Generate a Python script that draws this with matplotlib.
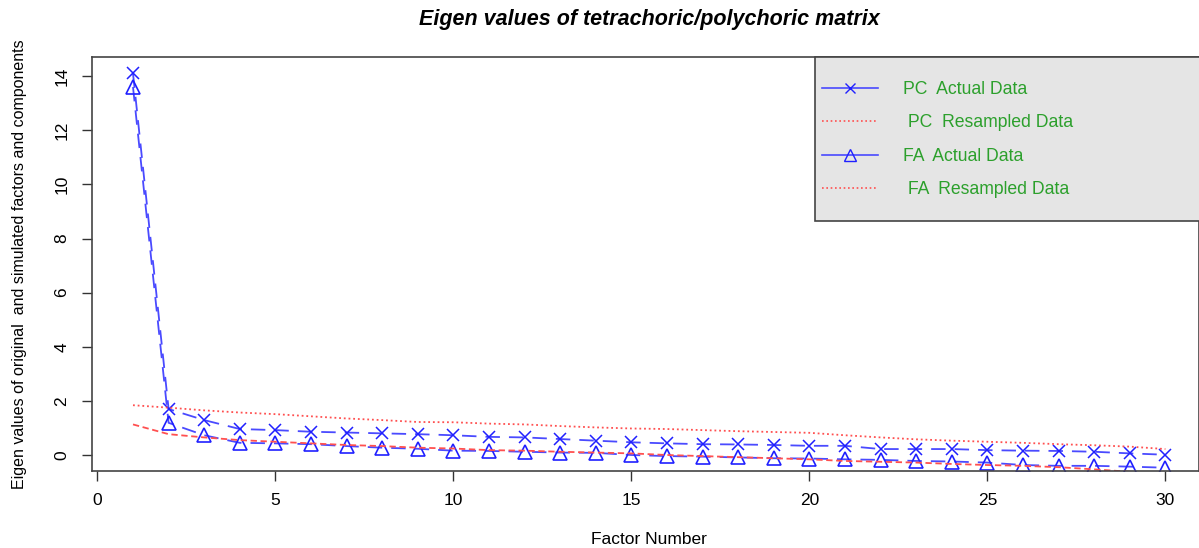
import matplotlib
matplotlib.use("Agg")
import matplotlib.pyplot as plt
from matplotlib.patches import Rectangle
from matplotlib.lines import Line2D

plt.rcParams['font.family'] = ['Liberation Sans', 'DejaVu Sans']

### factor numbers and eigen values
factors = list(range(1, 31))
pc_actual = [14.1, 1.70, 1.29, 0.96, 0.92, 0.86, 0.83, 0.80, 0.77, 0.73,
             0.67, 0.65, 0.59, 0.53, 0.47, 0.43, 0.40, 0.39, 0.37, 0.34,
             0.34, 0.22, 0.22, 0.22, 0.18, 0.16, 0.15, 0.12, 0.06, 0.01]
pc_resampled = [1.84, 1.75, 1.65, 1.57, 1.51, 1.43, 1.35, 1.29, 1.22, 1.21,
                1.16, 1.13, 1.07, 1.02, 0.98, 0.96, 0.92, 0.88, 0.85, 0.82,
                0.73, 0.65, 0.58, 0.53, 0.49, 0.45, 0.40, 0.36, 0.31, 0.22]
fa_actual = [13.6, 1.19, 0.73, 0.45, 0.43, 0.40, 0.33, 0.27, 0.23, 0.16,
             0.15, 0.12, 0.09, 0.08, 0.00, -0.04, -0.06, -0.09, -0.12, -0.13,
             -0.16, -0.18, -0.22, -0.24, -0.28, -0.37, -0.40, -0.40, -0.43, -0.47]
fa_resampled = [1.13, 0.77, 0.65, 0.55, 0.49, 0.43, 0.37, 0.33, 0.27, 0.24,
                0.18, 0.16, 0.12, 0.09, 0.06, 0.00, -0.04, -0.08, -0.12, -0.16,
                -0.22, -0.25, -0.28, -0.33, -0.37, -0.40, -0.45, -0.53, -0.62, -0.68]

legend_labels = ["PC  Actual Data", " PC  Resampled Data",
                 "FA  Actual Data", " FA  Resampled Data"]

W, H = 1199, 548
fig = plt.figure(figsize=(W / 100, H / 100), dpi=100)
ax_l, ax_r, ax_t, ax_b = 91.7, 1198.5, 56.7, 470.7
ax = fig.add_axes([ax_l / W, 1 - ax_b / H, (ax_r - ax_l) / W, (ax_b - ax_t) / H])

blue = "#4a4aff"
red = "#ff5050"
ax.plot(factors, pc_actual, color=blue, lw=1.3, ls=(0, (8, 5)),
        marker="x", ms=8.5, mew=1.1, mec="#2020ff")
ax.plot(factors, pc_resampled, color=red, lw=1.3, ls=(0, (1, 1.6)))
ax.plot(factors, fa_actual, color=blue, lw=1.3, ls=(0, (8, 5)),
        marker="^", ms=9.5, mew=1.2, mfc="none", mec="#2020ff")
ax.plot(factors, fa_resampled, color=red, lw=1.3, ls=(0, (3.5, 2)))

x0 = -0.16
ax.set_xlim(x0, x0 + (ax_r - ax_l) / 35.6)
ax.set_ylim(-0.58, 14.72)
ax.set_xticks(range(0, 31, 5))
ax.set_yticks(range(0, 15, 2))
ax.tick_params(direction="out", length=7, width=1, color="#333333",
               labelsize=12.5, pad=9)
for lab in ax.get_yticklabels():
    lab.set_rotation(90)
    lab.set_va("center")
for s in ax.spines.values():
    s.set_color("#444444")
    s.set_linewidth(1.2)

# legend box
bx = (815 - ax_l) / (ax_r - ax_l)
by = (ax_b - 221) / (ax_b - ax_t)
ax.add_patch(Rectangle((bx, by), 1.0 - bx + 0.01, 1.0 - by,
                       transform=ax.transAxes, facecolor="#e5e5e5",
                       edgecolor="#444444", lw=1.2, zorder=3, clip_on=False))
handles = [
    Line2D([], [], color=blue, lw=1.2, marker="x", ms=7, mec="#2020ff"),
    Line2D([], [], color=red, lw=1.2, ls=(0, (1, 1.6))),
    Line2D([], [], color=blue, lw=1.2, marker="^", ms=8, mfc="none", mec="#2020ff"),
    Line2D([], [], color=red, lw=1.2, ls=(0, (1, 1.6))),
]
leg = ax.legend(handles, legend_labels, loc="upper left",
                bbox_to_anchor=((822 - ax_l) / (ax_r - ax_l), (ax_b - 81) / (ax_b - ax_t)),
                frameon=False, borderpad=0, borderaxespad=0, numpoints=1,
                handlelength=3.2, handletextpad=1.4, labelspacing=0.93,
                fontsize=12.7, labelcolor="#2ca02c")
leg.set_zorder(4)

fig.text(649 / W, 1 - 19 / H, "Eigen values of tetrachoric/polychoric matrix",
         ha="center", va="center", fontsize=15.5, fontweight="bold", fontstyle="italic")
fig.text(649 / W, 1 - 539 / H, "Factor Number", ha="center", va="center", fontsize=12.5)
fig.text(20 / W, 1 - (ax_t + ax_b) / 2 / H,
         "Eigen values of original  and simulated factors and components",
         rotation=90, ha="center", va="center", fontsize=11.5)

fig.savefig("out.png", dpi=100)
